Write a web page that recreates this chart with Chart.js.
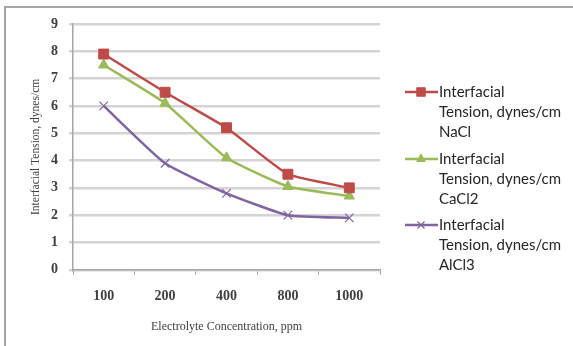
<!DOCTYPE html>
<html>
<head>
<meta charset="utf-8">
<script src="https://cdn.jsdelivr.net/npm/chart.js@4/dist/chart.umd.min.js"></script>
<style>
  html, body { margin: 0; padding: 0; background: #fff; }
  #wrap { position: absolute; left: 0; top: 0; width: 573px; height: 346px; }
  #frame { position: absolute; left: 4px; top: 6px; width: 569px; height: 340px;
           border-top: 2px solid #a6a6a6; border-left: 2px solid #a6a6a6; box-sizing: border-box; }
</style>
</head>
<body>
<div id="wrap">
  <div id="frame"></div>
  <canvas id="chart" width="573" height="346"></canvas>
</div>
<script>
// concentrations along the x axis
const concentrations = ['100', '200', '400', '800', '1000'];

// interfacial tension readings, dynes/cm
const naclValues = [7.9, 6.5, 5.2, 3.5, 3.0];
const cacl2Values = [7.5, 6.1, 4.1, 3.05, 2.7];
const alcl3Values = [6.0, 3.9, 2.8, 2.0, 1.9];

const seriesNames = [
    ['Interfacial', 'Tension, dynes/cm', 'NaCl'],
    ['Interfacial', 'Tension, dynes/cm', 'CaCl2'],
    ['Interfacial', 'Tension, dynes/cm', 'AlCl3']
];

const yTicks = [0, 1, 2, 3, 4, 5, 6, 7, 8, 9];

function makeSet(label, values, color, style, radius) {
    return {
        label: label,
        data: values,
        borderColor: color,
        backgroundColor: color,
        borderWidth: 2.5,
        pointStyle: style,
        pointRadius: radius,
        pointBorderColor: color,
        pointBackgroundColor: color,
        pointBorderWidth: style === 'crossRot' ? 1.2 : 1,
        tension: 0.15
    };
}

// legend on the right, with three-line labels
const sideLegend = {
    id: 'sideLegend',
    afterDraw(chart) {
        const ctx = chart.ctx;
        const rows = [92, 159, 225];
        ctx.save();
        chart.data.datasets.forEach((ds, i) => {
            const y = rows[i];
            ctx.strokeStyle = ds.borderColor;
            ctx.lineWidth = 2.5;
            ctx.beginPath();
            ctx.moveTo(405, y);
            ctx.lineTo(438, y);
            ctx.stroke();
            ctx.fillStyle = ds.borderColor;
            ctx.strokeStyle = ds.borderColor;
            ctx.lineWidth = ds.pointBorderWidth;
            Chart.helpers.drawPoint(ctx, {
                pointStyle: ds.pointStyle,
                radius: ds.pointRadius - 1,
                borderWidth: ds.pointBorderWidth
            }, 421, y);
            ctx.fillStyle = '#262626';
            ctx.font = '15px Lato';
            ctx.textBaseline = 'middle';
            ctx.textAlign = 'left';
            seriesNames[i].forEach((t, k) => ctx.fillText(t, 439, y + k * 20));
        });
        ctx.restore();
    }
};

const ctx = document.getElementById('chart').getContext('2d');
new Chart(ctx, {
    type: 'line',
    data: {
        labels: concentrations,
        datasets: [
            makeSet('NaCl', naclValues, '#be4b48', 'rect', 7),
            makeSet('CaCl2', cacl2Values, '#9bbb59', 'triangle', 6),
            makeSet('AlCl3', alcl3Values, '#8064a2', 'crossRot', 6)
        ]
    },
    options: {
        responsive: false,
        animation: false,
        layout: { padding: { left: 25, right: 193, top: 24, bottom: 8 } },
        plugins: { legend: { display: false }, tooltip: { enabled: false } },
        scales: {
            x: {
                offset: true,
                grid: { display: true, drawOnChartArea: false, offset: true, tickLength: 5, color: '#a6a6a6' },
                border: { color: '#a6a6a6', width: 1.5 },
                ticks: { color: '#404040', font: { family: 'Liberation Serif', size: 14, weight: 'bold' }, padding: 13 },
                title: { display: true, text: 'Electrolyte Concentration, ppm', color: '#404040',
                         font: { family: 'Liberation Serif', size: 12 }, padding: { top: 2 } }
            },
            y: {
                min: 0,
                max: 9,
                afterBuildTicks(axis) { axis.ticks = yTicks.map(v => ({ value: v })); },
                grid: { color: '#d4d4d4', lineWidth: 2.5, tickLength: 4 },
                border: { color: '#a6a6a6', width: 1.5 },
                ticks: { color: '#404040', font: { family: 'Liberation Serif', size: 14, weight: 'bold' }, padding: 11 },
                title: { display: true, text: 'Interfacial Tension, dynes/cm', color: '#404040',
                         font: { family: 'Liberation Serif', size: 11.5 }, padding: { bottom: 4 } },
                afterFit(axis) { axis.width = 48; }
            }
        }
    },
    plugins: [sideLegend]
});
</script>
</body>
</html>
